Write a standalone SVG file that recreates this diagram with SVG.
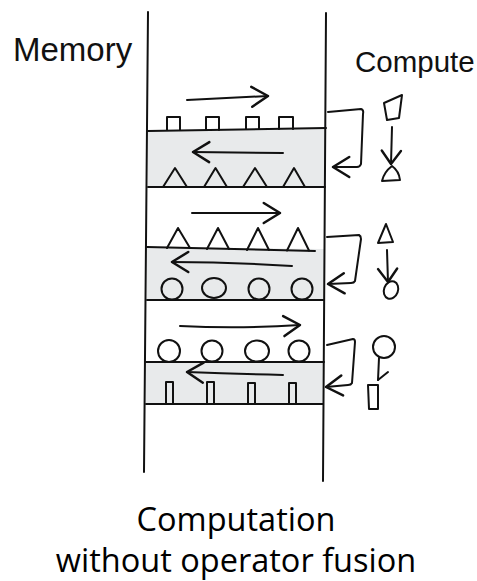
<svg xmlns="http://www.w3.org/2000/svg" width="477" height="581" viewBox="0 0 477 581">
<style>
.ln{fill:none;stroke:#111;stroke-width:2;stroke-linecap:round;stroke-linejoin:round}
.band{fill:#e8eaeb;stroke:none}
.hand{font-family:"Liberation Sans",Arial,sans-serif;fill:#111}
.cap{font-family:"Open Sans","Liberation Sans",sans-serif;font-size:32.5px;fill:#000;text-anchor:middle}
</style>
<defs>
<marker id="ah" markerUnits="userSpaceOnUse" markerWidth="30" markerHeight="30" refX="0" refY="0" viewBox="-16 -12 20 24" orient="auto">
<path d="M-13,-8 L0,0 L-13,8" fill="none" stroke="#111" stroke-width="2" stroke-linecap="round" stroke-linejoin="round"/>
</marker>
<marker id="ahs" markerUnits="userSpaceOnUse" markerWidth="24" markerHeight="24" refX="0" refY="0" viewBox="-12 -10 16 20" orient="auto">
<path d="M-11,-8 L0,0 L-11,8" fill="none" stroke="#111" stroke-width="2" stroke-linecap="round" stroke-linejoin="round"/>
</marker>
</defs>
<rect width="477" height="581" fill="#fff"/>

<g id="bands">
<polygon class="band" points="148,131 326,128 325,187 148,187"/>
<polygon class="band" points="147,247 325,249 324,300 147,300"/>
<polygon class="band" points="146,362 324,362 323,404 146,404"/>
</g>

<g id="memory-column">
<path class="ln" d="M148,12 L144,472"/>
<path class="ln" d="M326,13 L323,481"/>
<path class="ln" d="M148,131 L326,128 M148,187 L325,187"/>
<path class="ln" d="M147,247 L315,251 M147,300 L324,300"/>
<path class="ln" d="M146,362 L324,362 M146,404 L323,404"/>
</g>

<g id="labels">
<text class="hand" x="13" y="61" font-size="33">Memory</text>
<text class="hand" x="355" y="72" font-size="29.5">Compute</text>
<text class="cap" x="236" y="531">Computation</text>
<text class="cap" x="236" y="572">without operator fusion</text>
</g>

<g id="band1-data">
<path class="ln" d="M167,130 L167,117 L180,117 L180,130 M206,130 L206,117 L219,117 L219,130 M246,129 L246,117 L259,117 L259,129 M279,129 L279,117 L293,117 L293,129"/>
<path class="ln" d="M163,187 L175,168 L187,187 M204,187 L215.5,168 L227,187 M243,187 L255,168 L267,187 M283,187 L294,168 L305,187"/>
</g>

<g id="band2-data">
<path class="ln" d="M167,248 L178,228 L190,248 M207,249 L218,228 L229,249 M247,250 L258,228 L269,250 M287,250.5 L298,228 L309,250.5"/>
<ellipse class="ln" cx="172" cy="289" rx="10.5" ry="10.5"/>
<ellipse class="ln" cx="214" cy="288" rx="12" ry="10"/>
<ellipse class="ln" cx="259" cy="289" rx="10.5" ry="10.5"/>
<ellipse class="ln" cx="302" cy="289" rx="10.5" ry="10.5"/>
</g>

<g id="band3-data">
<circle class="ln" cx="169" cy="351" r="11"/>
<circle class="ln" cx="212" cy="351" r="10.5"/>
<ellipse class="ln" cx="257" cy="351" rx="12" ry="10.5"/>
<circle class="ln" cx="299" cy="351" r="10.5"/>
<path class="ln" d="M166,404 L166,382 L173,382 L173,404 M207,404 L207,382 L214,382 L214,404 M248,404 L248,383 L255,383 L255,404 M289,404 L289,383 L296,383 L296,404"/>
</g>

<g id="compute-ops">
<path class="ln" d="M384,103 L402,95 L399,118 L387,120 Z"/>
<path class="ln" d="M392,166 Q384,172 382,181 L400,180 Q399,171 392,166 Z"/>
<path class="ln" d="M386,224 L393,242 L378,243 Z"/>
<ellipse class="ln" cx="391" cy="290" rx="7" ry="9" transform="rotate(20 391 290)"/>
<circle class="ln" cx="384" cy="347" r="11"/>
<path class="ln" d="M368,385 L378,385 L378,409 L369,409 Z"/>
</g>

<g id="connectors">
<path class="ln" d="M187,100 L268,96" marker-end="url(#ah)"/>
<path class="ln" d="M283,153 L193,152" marker-end="url(#ah)"/>
<path class="ln" d="M192,213 L280,213" marker-end="url(#ah)"/>
<path class="ln" d="M292,266 Q230,262 172,262" marker-end="url(#ah)"/>
<path class="ln" d="M180,326 Q240,329 300,325" marker-end="url(#ah)"/>
<path class="ln" d="M283,375 Q235,374 187,372" marker-end="url(#ah)"/>
<path class="ln" d="M328,112 L361,109 Q364,110 363,114 L361,164 Q360,167 357,167 L333,167" marker-end="url(#ah)"/>
<path class="ln" d="M327,237 L359,235 Q361,236 361,239 L355,281 Q354,283 351,283 L328,284" marker-end="url(#ah)"/>
<path class="ln" d="M327,345 L353,339 Q355,339 355,342 L352,383 Q351,385 348,385 L326,387" marker-end="url(#ah)"/>
<path class="ln" d="M392,127 L391,164" marker-end="url(#ahs)"/>
<path class="ln" d="M387,250 L388,282" marker-end="url(#ahs)"/>
<path class="ln" d="M379,358 L378,380"/>
<path class="ln" d="M388,372 L378,380"/>
</g>
</svg>
